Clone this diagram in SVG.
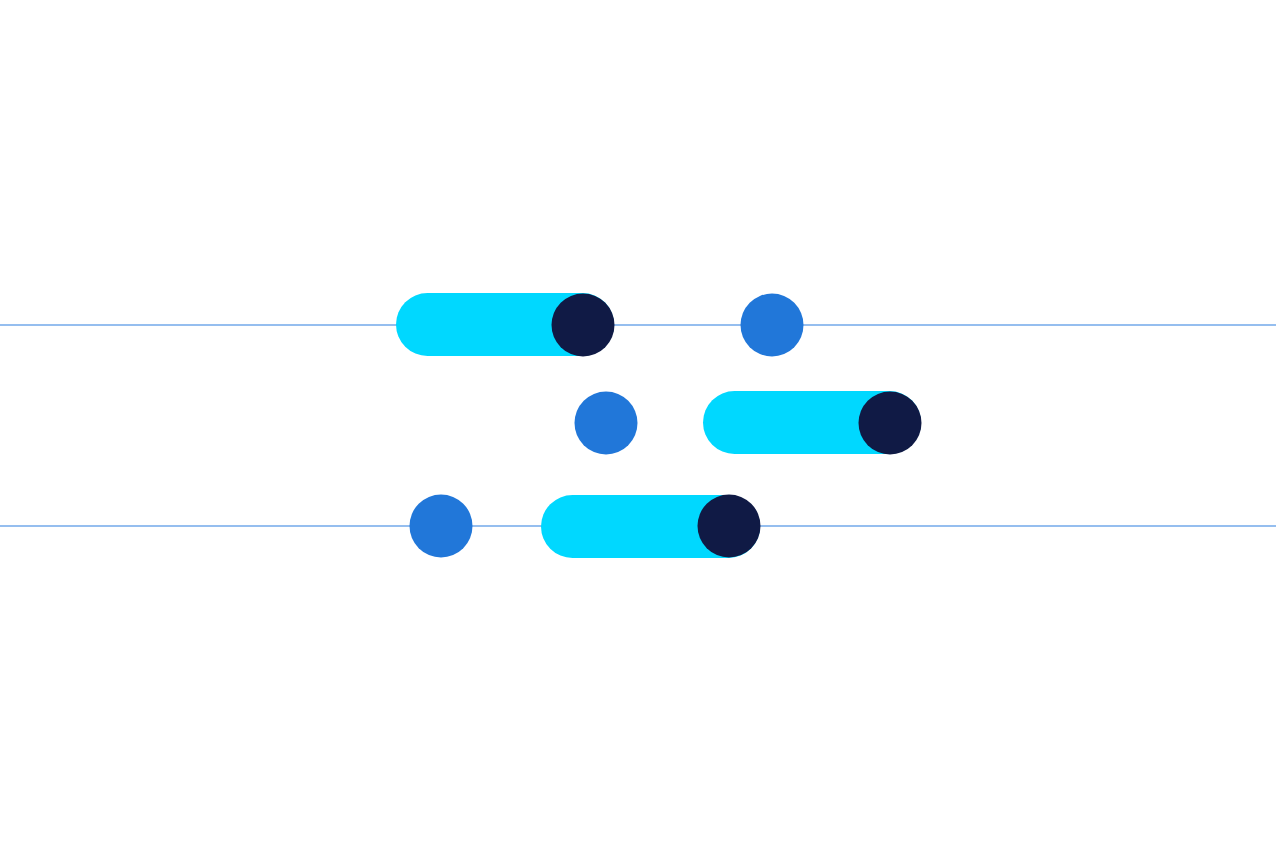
<svg xmlns="http://www.w3.org/2000/svg" width="1276" height="851" viewBox="0 0 1276 851">
<style>.ln{stroke:#2d7fe0;stroke-width:1.2;fill:none}.pill{fill:#00d8ff}.dk{fill:#101a45}.bl{fill:#2177d9}</style>
<rect width="1276" height="851" fill="#fff"/>
<g id="connectors">
<line class="ln" x1="0" y1="325" x2="1276" y2="325"/>
<line class="ln" x1="0" y1="526" x2="1276" y2="526"/>
</g>
<g id="pill1"><rect class="pill" x="396" y="293" width="218" height="63" rx="31.5"/><circle class="dk" cx="583" cy="325" r="31.5"/></g>
<g id="dot1"><circle class="bl" cx="772" cy="325" r="31.5"/></g>
<g id="dot2"><circle class="bl" cx="606" cy="423" r="31.5"/></g>
<g id="pill2"><rect class="pill" x="703" y="391" width="218" height="63" rx="31.5"/><circle class="dk" cx="890" cy="423" r="31.5"/></g>
<g id="dot3"><circle class="bl" cx="441" cy="526" r="31.5"/></g>
<g id="pill3"><rect class="pill" x="541" y="495" width="219" height="63" rx="31.5"/><circle class="dk" cx="729" cy="526" r="31.5"/></g>
</svg>
